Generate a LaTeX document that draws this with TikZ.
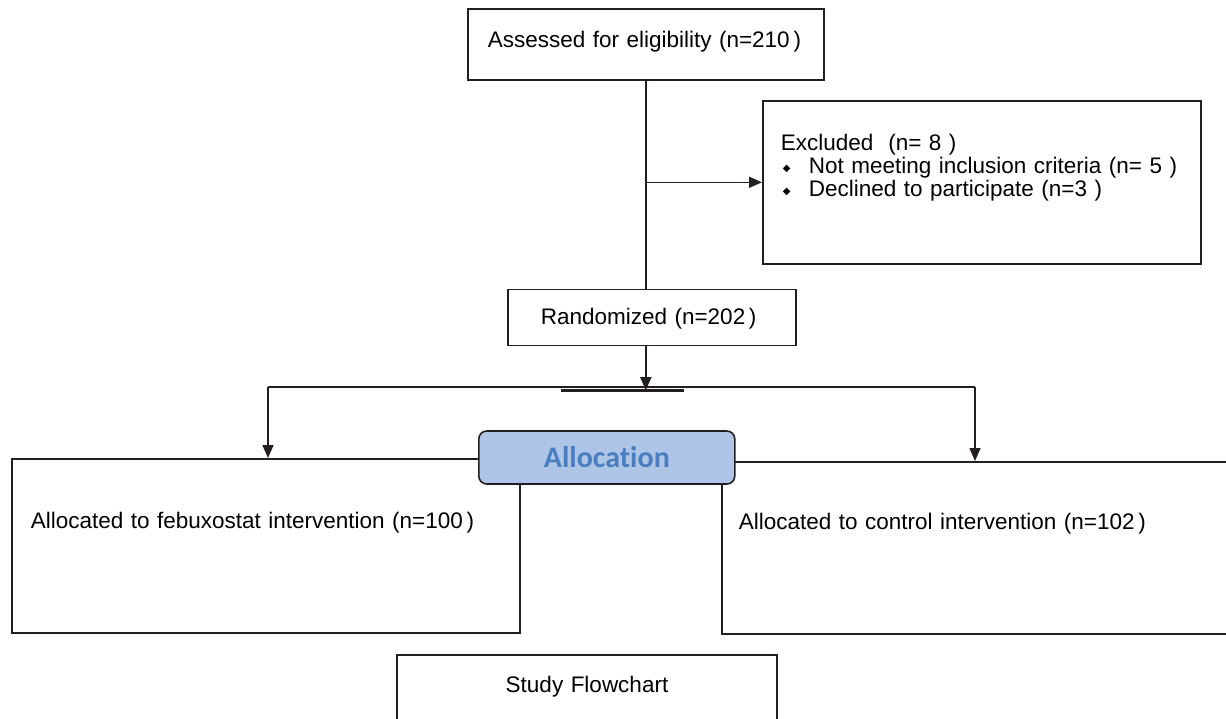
\documentclass[tikz,border=0pt]{standalone}
\usepackage{fontspec}
\setmainfont{Liberation Sans}
\newfontfamily\calibrifont[Ligatures=NoCommon]{Carlito}
\newfontfamily\symbolfont{DejaVu Sans}
\usetikzlibrary{positioning,arrows.meta}

\definecolor{linegray}{RGB}{35,31,32}
\definecolor{allocfill}{RGB}{174,197,231}
\definecolor{allocblue}{RGB}{74,126,190}

\newcommand{\diabullet}{\makebox[28pt][l]{\hspace{2pt}\raisebox{2pt}{\symbolfont\fontsize{10}{10}\selectfont ◆}}}

\begin{document}
\begin{tikzpicture}[x=1pt,y=-1pt,
        font=\fontsize{22.5}{23}\selectfont,
        box/.style={draw=linegray, line width=1.6pt, inner ysep=0pt, align=left, anchor=north west},
        line/.style={draw=linegray, line width=1.6pt},
        arr/.style={line, -{Triangle[length=13pt,width=11pt]}},
        allocbox/.style={draw=linegray, line width=1.6pt, fill=allocfill, rounded corners=8pt,
            minimum width=256pt, minimum height=53pt, text=allocblue,
            font=\calibrifont\bfseries\fontsize{30}{30}\selectfont}]
        \clip (0,0) rectangle (1226,718);
        % boxes
        \node[box, inner xsep=20pt, text width=316pt, text height=39pt, text depth=32pt] (assess) at (467,8) {Assessed for eligibility (n=210\,)};
        \node[box, inner xsep=18pt, text width=402pt, text height=50pt, text depth=113pt] (excl) at (762,100)
            {Excluded\ \ (n=~8~)\\ \diabullet Not meeting inclusion criteria (n=~5~)\\ \diabullet Declined to participate (n=3~)};
        \node[box, anchor=north, inner xsep=33pt, text width=222pt, text height=35pt, text depth=21pt, below=208pt of assess, xshift=6pt] (rand) {Randomized (n=202\,)};
        \node[box, inner xsep=19pt, text width=470pt, text height=70pt, text depth=104pt] (febux) at (11,458) {Allocated to febuxostat intervention (n=100\,)};
        \node[box, inner xsep=17pt, text width=485pt, text height=68pt, text depth=104pt] (control) at (721,461) {Allocated to control intervention (n=102\,)};
        \node[allocbox, below=84pt of rand, xshift=-45pt] (alloc) {Allocation};
        \node[box, anchor=north, align=center, inner xsep=10pt, text width=360pt, text height=38pt, text depth=48pt] (study) at (587,654) {Study Flowchart};
        % connectors
        \coordinate[below=44pt of rand.south, xshift=-6pt] (split);
        \coordinate (lturn) at (268,387);
        \coordinate (rturn) at (975,387);
        \draw[line] (assess.south) -- (assess.south |- rand.north);
        \draw[arr] (assess.south |- excl.west) -- (excl.west);
        \draw[arr] (assess.south |- rand.south) -- (split);
        \draw[line] (lturn) -- (rturn);
        \draw[line, line width=2.6pt] ([xshift=-85pt]split) -- ([xshift=38pt]split);
        \draw[arr] (lturn) -- (lturn |- febux.north);
        \draw[arr] (rturn) -- (rturn |- control.north);
\end{tikzpicture}
\end{document}
